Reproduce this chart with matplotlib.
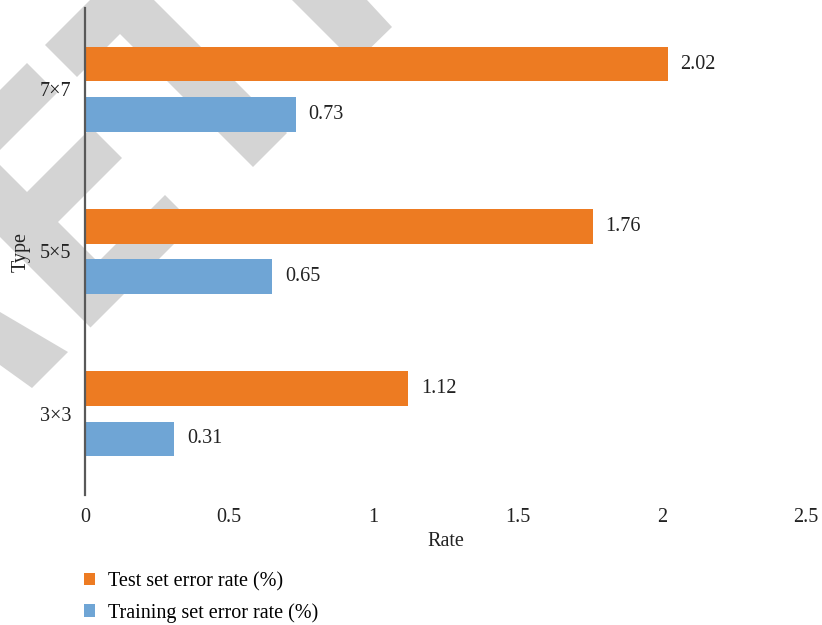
import matplotlib.pyplot as plt
import numpy as np
from matplotlib.patches import Polygon

plt.rcParams['font.family'] = ['Liberation Serif', 'DejaVu Serif']

types = ['3×3', '5×5', '7×7']
test_err = [1.12, 1.76, 2.02]
train_err = [0.31, 0.65, 0.73]
x_ticks = [0, 0.5, 1, 1.5, 2, 2.5]
x_ticklabels = ['0', '0.5', '1', '1.5', '2', '2.5']

W, H = 822, 625
fig = plt.figure(figsize=(W / 100, H / 100), dpi=100)

# light grey background stamp (pixel outlines, y measured from the top)
stamp = [
    [(45, 45), (122, -32), (287, 133), (253, 167), (120, 34), (77, 77)],
    [(292, 0), (367, 0), (392, 27), (355, 63)],
    [(0, 90), (27, 63), (57, 93), (0, 150)],
    [(27, 192), (91.5, 127.5), (122, 158), (58, 222), (98, 262),
     (165, 195), (194, 224), (90.5, 327.5), (0, 237), (0, 165)],
    [(0, 312), (68, 352), (32, 388), (0, 365)],
]
for pts in stamp:
    xy = [(px / W, 1 - py / H) for px, py in pts]
    fig.patches.append(Polygon(xy, closed=True, transform=fig.transFigure,
                               facecolor='#d4d4d4', edgecolor='none',
                               zorder=0))

ax = fig.add_axes([85 / W, 130 / H, 721 / W, 487 / H])
ax.set_zorder(1)
ax.patch.set_alpha(0)

y = np.arange(len(types))
h = 0.215
off = 0.155
orange = '#ed7b22'
blue = '#6fa5d5'
fs = 14.5

b1 = ax.barh(y + off, test_err, height=h, color=orange,
             label='Test set error rate (%)', zorder=2)
b2 = ax.barh(y - off, train_err, height=h, color=blue,
             label='Training set error rate (%)', zorder=2)

for bars, vals in ((b1, test_err), (b2, train_err)):
    for rect, v in zip(bars, vals):
        ax.text(v + 0.045, rect.get_y() + rect.get_height() / 2, f'{v:.2f}',
                va='center', ha='left', fontsize=fs, color='#222222')

ax.set_xlim(0, 2.5)
ax.set_ylim(-0.5, 2.5)
ax.set_xticks(x_ticks)
ax.set_xticklabels(x_ticklabels)
ax.set_yticks(y)
ax.set_yticklabels(types)
ax.tick_params(axis='both', length=0, labelsize=fs, colors='#222222')
ax.tick_params(axis='x', pad=9)
ax.tick_params(axis='y', pad=10)

for s in ('top', 'right', 'bottom'):
    ax.spines[s].set_visible(False)
ax.spines['left'].set_color('#595959')
ax.spines['left'].set_linewidth(1.6)
ax.spines['left'].set_zorder(3)

ax.set_xlabel('Rate', fontsize=fs, color='#222222', labelpad=4)
ax.set_ylabel('Type', fontsize=fs, color='#222222', labelpad=6)

ax.legend(loc='upper left', bbox_to_anchor=(84 / W, 1 - 572 / H),
          bbox_transform=fig.transFigure, frameon=False, fontsize=fs,
          handlelength=0.55, handleheight=0.55, handletextpad=0.62,
          labelspacing=0.58, borderaxespad=0, borderpad=0)

fig.savefig('out.png', dpi=100)
